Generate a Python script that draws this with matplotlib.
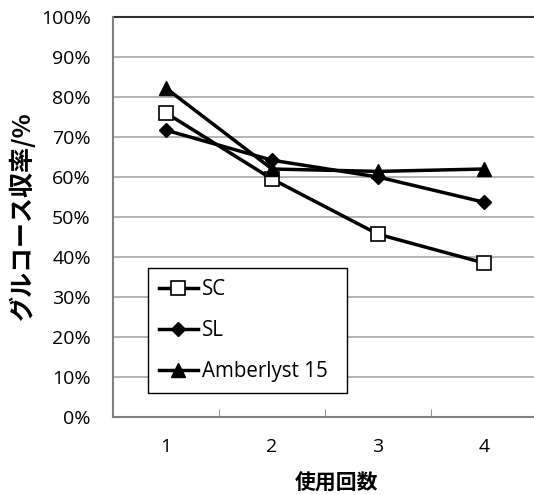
import matplotlib.pyplot as plt
from matplotlib.ticker import FuncFormatter

plt.rcParams['font.family'] = ['Open Sans', 'Noto Sans CJK JP', 'DejaVu Sans']

# 使用回数ごとのグルコース収率 (%)
cycles = [1, 2, 3, 4]
sc = [76, 59.5, 45.7, 38.5]
sl = [71.7, 64.2, 60.0, 53.7]
amberlyst = [82.2, 62.0, 61.4, 62.0]

fig = plt.figure(figsize=(5.34, 4.95), dpi=100)
ax = fig.add_axes([113 / 534, 1 - 417 / 495, (537 - 113) / 534, (417 - 17) / 495])

ax.plot(cycles, sc, color='black', lw=2.5, marker='s', ms=9.5,
        mfc='white', mec='black', mew=1.2, label='SC', zorder=3)
ax.plot(cycles, sl, color='black', lw=2.5, marker='D', ms=7.5,
        mfc='black', mec='black', label='SL', zorder=3)
ax.plot(cycles, amberlyst, color='black', lw=2.5, marker='^', ms=10.5,
        mfc='black', mec='black', label='Amberlyst 15', zorder=3)

ax.set_xlim(0.5, 4.5)
ax.set_ylim(0, 100)
ax.set_yticks(range(0, 101, 10))
ax.yaxis.set_major_formatter(FuncFormatter(lambda v, p: f'{v:.0f}%'))
ax.set_xticks(cycles)
ax.set_xticks([1.5, 2.5, 3.5], minor=True)
ax.tick_params(axis='x', which='major', length=0, pad=15, labelsize=14)
ax.tick_params(axis='x', which='minor', length=6, direction='in', color='#808080')
ax.tick_params(axis='y', length=0, pad=16, labelsize=14)

ax.grid(axis='y', color='#a6a6a6', lw=1.2)
ax.set_axisbelow(True)
for side in ['top', 'right']:
    ax.spines[side].set_visible(False)
for side in ['left', 'bottom']:
    ax.spines[side].set_color('#808080')
    ax.spines[side].set_linewidth(1.5)
ax.axhline(100, color='#303030', lw=1.5, zorder=2, clip_on=False)

ax.set_xlabel('使用回数', fontsize=15, fontweight='bold',
              family=['Noto Sans CJK JP'], va='center')
ax.xaxis.set_label_coords((337 - 113) / 424, (417 - 483) / 400)
ax.set_ylabel('グルコース収率/%', fontsize=18, fontweight='bold',
              family=['Noto Sans CJK JP'], va='center')
ax.yaxis.set_label_coords((22 - 113) / 424, 0.5)

leg = ax.legend(loc='lower left', bbox_to_anchor=(148 / 534, 1 - 393 / 495, (347 - 148) / 534, (393 - 267) / 495),
                bbox_transform=fig.transFigure, mode='expand', fontsize=14.8,
                frameon=True, fancybox=False, edgecolor='black', framealpha=1,
                handlelength=1.9, handletextpad=0.2, labelspacing=0.98,
                borderpad=0.52, borderaxespad=0)
leg.get_frame().set_linewidth(1.0)

fig.savefig('out.png', dpi=100, facecolor='white')
